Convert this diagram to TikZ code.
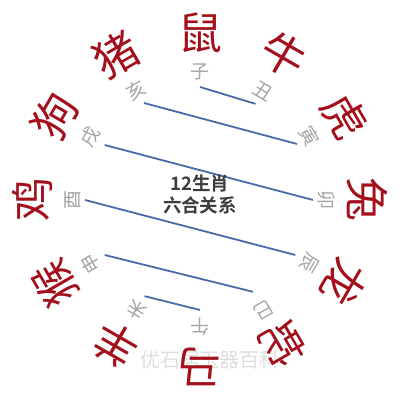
\documentclass[tikz,border=0pt]{standalone}
\usepackage{fontspec}
\newfontfamily\cjk{Noto Sans CJK SC}
\newfontfamily\cjkbold{Noto Sans CJK SC Bold}
\definecolor{animalred}{RGB}{163,16,28}
\definecolor{branchgray}{RGB}{165,165,165}
\definecolor{pairblue}{RGB}{72,106,168}
\definecolor{centergray}{RGB}{60,60,60}
\definecolor{markgray}{RGB}{222,222,222}
\tikzset{
  animal/.style={inner sep=0pt, text=animalred, font=\cjk\fontsize{44}{44}\selectfont},
  branch/.style={inner sep=0pt, text=branchgray, font=\cjk\fontsize{19}{19}\selectfont},
  pairline/.style={draw=pairblue, line width=1.8pt},
  centertext/.style={inner sep=0pt, text=centergray, align=center, font=\cjkbold\fontsize{18.5}{22}\selectfont},
  watermark/.style={inner sep=0pt, text=markgray, font=\cjk\fontsize{20}{20}\selectfont}
}
\begin{document}
\begin{tikzpicture}[x=1pt,y=1pt]
\useasboundingbox (0,0) rectangle (400,400);
\fill[white] (0,0) rectangle (400,400);
\node[watermark] (mark) at (210,40) {优石居玉器百科};
\begin{scope}[shift={(200,200)}]
  % animals
  \node[animal, rotate=0]    (shu)  at (90:167)   {鼠};
  \node[animal, rotate=-30]  (niu)  at (60:168)   {牛};
  \node[animal, rotate=-60]  (hu)   at (30:167)   {虎};
  \node[animal, rotate=-90]  (tu)   at (0:167)    {兔};
  \node[animal, rotate=-120] (long) at (-30:167)  {龙};
  \node[animal, rotate=-150] (she)  at (-60:167)  {蛇};
  \node[animal, rotate=180]  (ma)   at (-90:167)  {马};
  \node[animal, rotate=150]  (yang) at (-120:167) {羊};
  \node[animal, rotate=120]  (hou)  at (-150:167) {猴};
  \node[animal, rotate=90]   (ji)   at (180:167)  {鸡};
  \node[animal, rotate=60]   (gou)  at (150:167)  {狗};
  \node[animal, rotate=30]   (zhu)  at (120:167)  {猪};
  % branches
  \node[branch, rotate=0]    (zi)   at (90:128)   {子};
  \node[branch, rotate=-30]  (chou) at (60:126)   {丑};
  \node[branch, rotate=-60]  (yin)  at (30:127)   {寅};
  \node[branch, rotate=-90]  (mao)  at (0:127)    {卯};
  \node[branch, rotate=-120] (chen) at (-30:127)  {辰};
  \node[branch, rotate=-150] (si)   at (-60:127)  {巳};
  \node[branch, rotate=180]  (wu)   at (-90:127)  {午};
  \node[branch, rotate=150]  (wei)  at (-120:127) {未};
  \node[branch, rotate=120]  (shen) at (-150:127) {申};
  \node[branch, rotate=90]   (you)  at (180:127)  {酉};
  \node[branch, rotate=60]   (xu)   at (150:127)  {戌};
  \node[branch, rotate=30]   (hai)  at (120:127)  {亥};
  % line ends
  \coordinate (pzi)   at (90:113);
  \coordinate (pchou) at (60:111);
  \coordinate (phai)  at (120:112);
  \coordinate (pyin)  at (30:112);
  \coordinate (pxu)   at (150:110);
  \coordinate (pmao)  at (0:113);
  \coordinate (pyou)  at (180:115);
  \coordinate (pchen) at (-30:110);
  \coordinate (pshen) at (-150:110);
  \coordinate (psi)   at (-60:106);
  \coordinate (pwei)  at (-120:111);
  \coordinate (pwu)   at (-90:110);
  \draw[pairline] (pzi) -- (pchou);
  \draw[pairline] (phai) -- (pyin);
  \draw[pairline] (pxu) -- (pmao);
  \draw[pairline] (pyou) -- (pchen);
  \draw[pairline] (pshen) -- (psi);
  \draw[pairline] (pwei) -- (pwu);
  \node[centertext] (title) at (0,6) {12生肖\\六合关系};
\end{scope}
\end{tikzpicture}
\end{document}
